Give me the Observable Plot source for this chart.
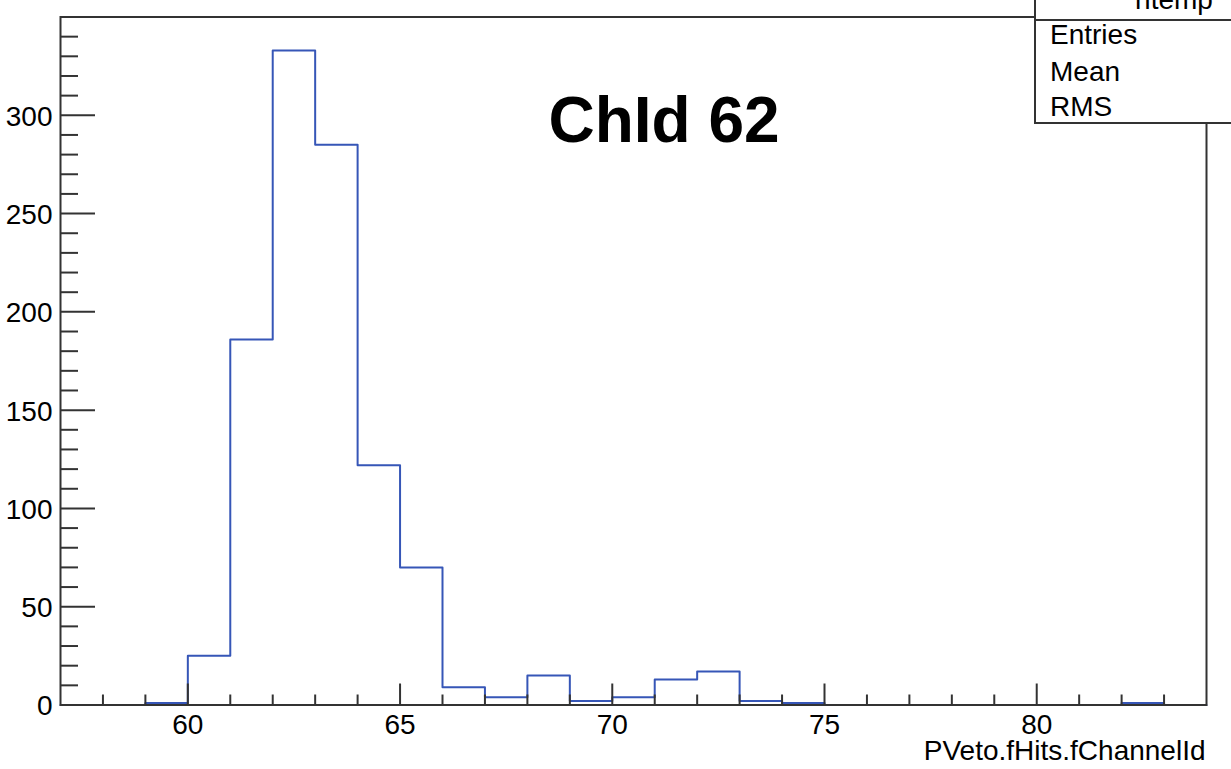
<!DOCTYPE html>
<html>
<head>
<meta charset="utf-8">
<script src="https://cdn.jsdelivr.net/npm/d3@7"></script>
<script src="https://cdn.jsdelivr.net/npm/@observablehq/plot@0.6"></script>
<style>
  html, body { margin: 0; padding: 0; background: #fff; overflow: hidden; }
  #wrap { position: relative; width: 1231px; height: 769px; overflow: hidden; font-family: "Liberation Sans", Arial, Helvetica, sans-serif; }
  #wrap svg { position: absolute; left: 0; top: 0; }
  .stats { position: absolute; left: 1034px; top: -40px; width: 260px; height: 164px; box-sizing: border-box; border: 2px solid #333; background: #fff; }
  .sep { position: absolute; left: 1034px; top: 19px; width: 260px; height: 2px; background: #333; }
  .st { position: absolute; font-size: 28px; line-height: 1; color: #000; white-space: nowrap; }
</style>
</head>
<body>
<div id="wrap"></div>
<script>
// ---- data ----
const binStart = [57, 58, 59, 60, 61, 62, 63, 64, 65, 66, 67, 68, 69, 70, 71, 72, 73, 74, 75, 76, 77, 78, 79, 80, 81, 82, 83];
const counts   = [0, 0, 1, 25, 186, 333, 285, 122, 70, 9, 4, 15, 2, 4, 13, 17, 2, 1, 0, 0, 0, 0, 0, 0, 0, 1, 0];
const binEnd = 84;
const xMajorTicks = [60, 65, 70, 75, 80];
const xMinorTicks = [58, 59, 61, 62, 63, 64, 66, 67, 68, 69, 71, 72, 73, 74, 76, 77, 78, 79, 81, 82, 83];
const yMajorTicks = [0, 50, 100, 150, 200, 250, 300];
const yMinorTicks = [10, 20, 30, 40, 60, 70, 80, 90, 110, 120, 130, 140, 160, 170, 180, 190, 210, 220, 230, 240, 260, 270, 280, 290, 310, 320, 330, 340];
const titleText = "ChId 62";
const xTitle = "PVeto.fHits.fChannelId";
const statsName = "htemp";
const statsRows = ["Entries", "Mean", "RMS"];

// step outline table
const steps = binStart.map((x, i) => ({x, y: counts[i]}));
steps.push({x: binEnd, y: counts[counts.length - 1]});

const axisColor = "#333";
const histColor = "#3656b7";
const fontSize = 28;

const chart = Plot.plot({
  width: 1231,
  height: 769,
  marginLeft: 60,
  marginRight: 25,
  marginTop: 16.5,
  marginBottom: 64.5,
  x: {domain: [57, 84], axis: null},
  y: {domain: [0, 350], axis: null},
  style: {fontFamily: "'Liberation Sans', Arial, Helvetica, sans-serif", background: "transparent", color: "#000"},
  marks: [
    Plot.line(steps, {x: "x", y: "y", curve: "step-after", stroke: histColor, strokeWidth: 2}),
    Plot.frame({stroke: axisColor, strokeWidth: 2}),
    Plot.ruleX(xMinorTicks, {x: d => d, y1: 0, y2: 0, insetTop: -10, stroke: axisColor, strokeWidth: 2}),
    Plot.ruleX(xMajorTicks, {x: d => d, y1: 0, y2: 0, insetTop: -21, stroke: axisColor, strokeWidth: 2}),
    Plot.ruleY(yMinorTicks, {y: d => d, x1: 57, x2: 57, insetRight: -18, stroke: axisColor, strokeWidth: 2}),
    Plot.ruleY(yMajorTicks, {y: d => d, x1: 57, x2: 57, insetRight: -35, stroke: axisColor, strokeWidth: 2}),
    Plot.text(xMajorTicks, {x: d => d, y: 0, text: d => String(d), lineAnchor: "middle", dy: 20.5, fontSize, fill: "#000"}),
    Plot.text(yMajorTicks, {x: 57, y: d => d, text: d => String(d), lineAnchor: "middle", textAnchor: "end", dx: -8, dy: 1.5, fontSize, fill: "#000"}),
    Plot.text([titleText], {frameAnchor: "top", lineAnchor: "middle", text: d => d, dx: 30.5, dy: 104.7, fontSize: 64, fontWeight: "bold", fill: "#000"}),
    Plot.text([xTitle], {frameAnchor: "bottom-right", lineAnchor: "middle", text: d => d, textAnchor: "end", dx: -1, dy: 46.5, fontSize, fill: "#000"})
  ]
});

const wrap = document.getElementById("wrap");
wrap.appendChild(chart);

// stats box (partially outside the canvas, as in the reference)
const box = document.createElement("div");
box.className = "stats";
wrap.appendChild(box);
const sep = document.createElement("div");
sep.className = "sep";
wrap.appendChild(sep);

const nameEl = document.createElement("div");
nameEl.className = "st";
nameEl.textContent = statsName;
nameEl.style.left = "1174px";
nameEl.style.top = "-13.7px";
nameEl.style.transform = "translateX(-50%)";
wrap.appendChild(nameEl);

const rowTops = [21.3, 57.8, 92.8];
statsRows.forEach((r, i) => {
  const el = document.createElement("div");
  el.className = "st";
  el.textContent = r;
  el.style.left = "1050px";
  el.style.top = rowTops[i] + "px";
  wrap.appendChild(el);
});
</script>
</body>
</html>
